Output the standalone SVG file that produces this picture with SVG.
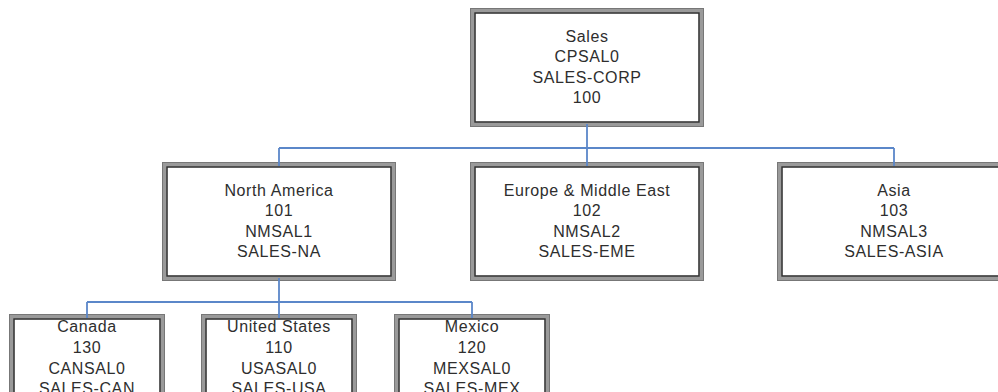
<svg xmlns="http://www.w3.org/2000/svg" width="998" height="392" viewBox="0 0 998 392">
<style>
.bg{fill:#ffffff;stroke:none}
.bo{fill:none;stroke:#9a9a9a;stroke-width:5}
.bi{fill:none;stroke:#303030;stroke-width:1.4}
.bx{fill:none;stroke:#777777;stroke-width:1}
text{font-family:"Liberation Sans",Arial,Helvetica,sans-serif;font-size:16px;letter-spacing:0.6px;fill:#2e2e2e;text-anchor:middle}
.c{fill:none;stroke:#5b87c9;stroke-width:1.8}
</style>
<rect width="998" height="392" fill="#ffffff"/>
<g id="n-sales">
<rect class="bg" x="473" y="11" width="228" height="113"/>
<text x="587" y="41.5">Sales</text>
<text x="587" y="62">CPSAL0</text>
<text x="587" y="82.5">SALES-CORP</text>
<text x="587" y="103">100</text>
<rect class="bo" x="473" y="11" width="228" height="113"/>
<rect class="bx" x="470.5" y="8.5" width="233" height="118"/>
<rect class="bi" x="475" y="13" width="224" height="109"/>
</g>
<g id="n-na">
<rect class="bg" x="165" y="165" width="228" height="113"/>
<text x="279" y="195.5">North America</text>
<text x="279" y="216">101</text>
<text x="279" y="236.5">NMSAL1</text>
<text x="279" y="257">SALES-NA</text>
<rect class="bo" x="165" y="165" width="228" height="113"/>
<rect class="bx" x="162.5" y="162.5" width="233" height="118"/>
<rect class="bi" x="167" y="167" width="224" height="109"/>
</g>
<g id="n-eme">
<rect class="bg" x="473" y="165" width="228" height="113"/>
<text x="587" y="195.5">Europe &amp; Middle East</text>
<text x="587" y="216">102</text>
<text x="587" y="236.5">NMSAL2</text>
<text x="587" y="257">SALES-EME</text>
<rect class="bo" x="473" y="165" width="228" height="113"/>
<rect class="bx" x="470.5" y="162.5" width="233" height="118"/>
<rect class="bi" x="475" y="167" width="224" height="109"/>
</g>
<g id="n-asia">
<rect class="bg" x="780" y="165" width="228" height="113"/>
<text x="894" y="195.5">Asia</text>
<text x="894" y="216">103</text>
<text x="894" y="236.5">NMSAL3</text>
<text x="894" y="257">SALES-ASIA</text>
<rect class="bo" x="780" y="165" width="228" height="113"/>
<rect class="bx" x="777.5" y="162.5" width="233" height="118"/>
<rect class="bi" x="782" y="167" width="224" height="109"/>
</g>
<g id="n-can">
<rect class="bg" x="12" y="317" width="150" height="113"/>
<text x="87" y="332">Canada</text>
<text x="87" y="353">130</text>
<text x="87" y="373.5">CANSAL0</text>
<text x="87" y="394">SALES-CAN</text>
<rect class="bo" x="12" y="317" width="150" height="113"/>
<rect class="bx" x="9.5" y="314.5" width="155" height="118"/>
<rect class="bi" x="14" y="319" width="146" height="109"/>
</g>
<g id="n-us">
<rect class="bg" x="204" y="317" width="150" height="113"/>
<text x="279" y="332">United States</text>
<text x="279" y="353">110</text>
<text x="279" y="373.5">USASAL0</text>
<text x="279" y="394">SALES-USA</text>
<rect class="bo" x="204" y="317" width="150" height="113"/>
<rect class="bx" x="201.5" y="314.5" width="155" height="118"/>
<rect class="bi" x="206" y="319" width="146" height="109"/>
</g>
<g id="n-mex">
<rect class="bg" x="397" y="317" width="150" height="113"/>
<text x="472" y="332">Mexico</text>
<text x="472" y="353">120</text>
<text x="472" y="373.5">MEXSAL0</text>
<text x="472" y="394">SALES-MEX</text>
<rect class="bo" x="397" y="317" width="150" height="113"/>
<rect class="bx" x="394.5" y="314.5" width="155" height="118"/>
<rect class="bi" x="399" y="319" width="146" height="109"/>
</g>
<g id="connectors">
<path class="c" d="M587 124 V148 M279 148 H894 M279 148 V166 M587 148 V166 M894 148 V166"/>
<path class="c" d="M279 278 V302 M87 302 H472 M87 302 V318 M279 302 V318 M472 302 V318"/>
</g>
</svg>
